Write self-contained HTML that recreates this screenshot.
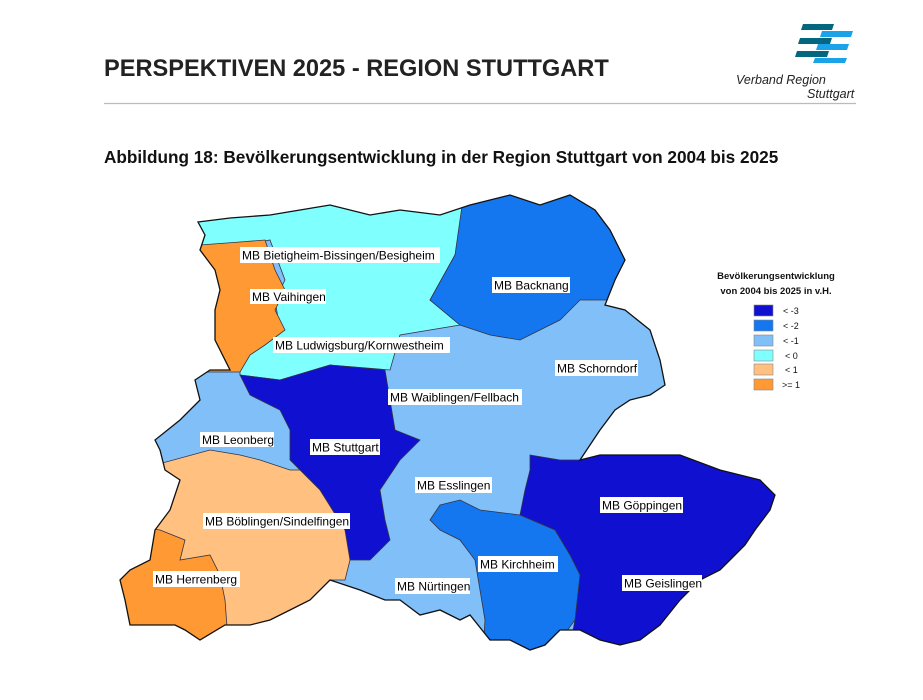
<!DOCTYPE html>
<html><head><meta charset="utf-8"><style>
body{margin:0;background:#fff;width:923px;height:695px;overflow:hidden;font-family:"Liberation Sans",Arial,sans-serif}
</style></head><body>
<svg width="923" height="695" viewBox="0 0 923 695" xmlns="http://www.w3.org/2000/svg" font-family="Liberation Sans, Arial, sans-serif">
<text x="104" y="76" font-size="23.6" font-weight="bold" fill="#222">PERSPEKTIVEN 2025 - REGION STUTTGART</text>
<line x1="104" y1="103.5" x2="856" y2="103.5" stroke="#bbb" stroke-width="1.2"/>
<g>
<polygon points="803,24 834,24 832,30 801,30" fill="#05677f"/>
<polygon points="822,31 853,31 851,37 820,37" fill="#1aa3e8"/>
<polygon points="800,38 832,38 830,44 798,44" fill="#05677f"/>
<polygon points="818,44 849,44 847,50 816,50" fill="#1aa3e8"/>
<polygon points="797,51 829,51 827,57 795,57" fill="#05677f"/>
<polygon points="815,58 847,58 845,63 813,63" fill="#1aa3e8"/>
</g>
<text x="736" y="84" font-size="12.5" font-style="italic" fill="#222">Verband Region</text>
<text x="807" y="98" font-size="12.5" font-style="italic" fill="#222">Stuttgart</text>
<text x="104" y="163" font-size="17.2" font-weight="bold" fill="#111">Abbildung 18: Bevölkerungsentwicklung in der Region Stuttgart von 2004 bis 2025</text>
<defs><clipPath id="c"><polygon id="ob" points="198,222 230,218 270,215 300,210 330,205 370,215 400,210 440,215 470,205 490,200 510,195 540,205 570,195 595,210 610,230 625,260 615,280 605,305 625,310 650,330 660,360 665,385 650,395 630,400 615,410 600,430 590,445 580,460 600,455 640,455 680,455 720,470 760,480 775,495 770,510 755,530 745,545 730,560 720,570 700,580 680,600 660,625 640,640 620,645 600,640 580,630 560,630 545,645 530,650 510,640 490,640 470,615 460,620 440,610 420,615 400,600 385,600 360,590 330,580 310,600 290,610 270,620 250,625 225,625 200,640 185,630 175,625 160,625 130,625 125,600 120,580 130,570 150,560 155,530 170,510 180,480 165,470 160,450 155,440 180,420 200,400 195,380 210,370 230,370 215,340 215,310 220,290 215,270 200,250 205,235"/></clipPath></defs>
<g clip-path="url(#c)" stroke="#334" stroke-width="0.8">
<rect x="100" y="180" width="720" height="500" fill="#80bff8"/>
<polygon fill="#80ffff" points="150,150 480,150 455,255 430,300 460,325 400,335 390,370 330,365 280,380 240,375 240,340 280,330 275,300 285,280 270,240 245,245 150,245"/>
<polygon fill="#ff9933" points="200,245 240,242 265,240 275,270 285,290 275,310 285,330 265,345 250,355 240,372 230,372 150,372"/>
<polygon fill="#1477f0" points="470,150 700,150 625,260 610,300 580,300 560,320 520,340 490,335 460,325 430,300 455,255"/>
<polygon fill="#1010d0" points="240,375 280,380 330,365 385,370 390,400 395,430 420,440 400,460 380,490 385,520 390,540 370,560 350,560 345,530 320,490 300,470 290,460 290,430 280,410 250,395"/>
<polygon fill="#ffc080" points="100,480 210,450 240,455 260,460 290,470 300,470 320,490 345,530 350,560 345,580 330,580 335,700 210,700 100,700"/>
<polygon fill="#ff9933" points="100,520 160,530 185,540 180,560 210,555 220,575 225,600 228,640 100,700"/>
<polygon fill="#1010d0" points="530,455 560,460 580,460 600,455 700,455 800,480 800,700 560,700 575,620 580,575 570,555 555,530 520,515 525,490 530,470"/>
<polygon fill="#1477f0" points="440,505 460,500 480,510 520,515 555,530 570,555 580,575 575,620 560,640 520,700 480,700 485,620 475,560 460,540 440,530 430,520"/>
</g>
<use href="#ob" fill="none" stroke="#111" stroke-width="1.3"/>
<g font-size="12" fill="#000">
<rect x="240" y="247" width="200" height="16" fill="#fff"/><text x="242" y="259.5">MB Bietigheim-Bissingen/Besigheim</text>
<rect x="250" y="289" width="76" height="15" fill="#fff"/><text x="252" y="301">MB Vaihingen</text>
<rect x="492" y="277" width="78" height="16" fill="#fff"/><text x="494" y="289.5">MB Backnang</text>
<rect x="273" y="337" width="177" height="16" fill="#fff"/><text x="275" y="349.5">MB Ludwigsburg/Kornwestheim</text>
<rect x="555" y="360" width="83" height="16" fill="#fff"/><text x="557" y="372.5">MB Schorndorf</text>
<rect x="388" y="389" width="134" height="16" fill="#fff"/><text x="390" y="401.5">MB Waiblingen/Fellbach</text>
<rect x="200" y="432" width="74" height="15" fill="#fff"/><text x="202" y="444">MB Leonberg</text>
<rect x="310" y="439" width="70" height="16" fill="#fff"/><text x="312" y="451.5">MB Stuttgart</text>
<rect x="415" y="477" width="77" height="16" fill="#fff"/><text x="417" y="489.5">MB Esslingen</text>
<rect x="600" y="497" width="83" height="16" fill="#fff"/><text x="602" y="509.5">MB Göppingen</text>
<rect x="203" y="513" width="147" height="16" fill="#fff"/><text x="205" y="525.5">MB Böblingen/Sindelfingen</text>
<rect x="478" y="556" width="80" height="16" fill="#fff"/><text x="480" y="568.5">MB Kirchheim</text>
<rect x="153" y="571" width="87" height="16" fill="#fff"/><text x="155" y="583.5">MB Herrenberg</text>
<rect x="395" y="578" width="75" height="16" fill="#fff"/><text x="397" y="590.5">MB Nürtingen</text>
<rect x="622" y="575" width="80" height="16" fill="#fff"/><text x="624" y="587.5">MB Geislingen</text>
</g>
<g font-size="9.5" font-weight="bold" fill="#111" text-anchor="middle">
<text x="776" y="279">Bevölkerungsentwicklung</text>
<text x="776" y="294">von 2004 bis 2025 in v.H.</text>
</g>
<g stroke="#888" stroke-width="0.6" font-size="9" fill="#111">
<rect x="754" y="305" width="19" height="11" fill="#1010d0"/><text x="783" y="314" stroke="none">&lt; -3</text>
<rect x="754" y="320" width="19" height="11" fill="#1477f0"/><text x="783" y="329" stroke="none">&lt; -2</text>
<rect x="754" y="335" width="19" height="11" fill="#80bff8"/><text x="783" y="344" stroke="none">&lt; -1</text>
<rect x="754" y="350" width="19" height="11" fill="#80ffff"/><text x="785" y="359" stroke="none">&lt; 0</text>
<rect x="754" y="364" width="19" height="11" fill="#ffc080"/><text x="785" y="373" stroke="none">&lt; 1</text>
<rect x="754" y="379" width="19" height="11" fill="#ff9933"/><text x="782" y="388" stroke="none">&gt;= 1</text>
</g>
</svg>
</body></html>
